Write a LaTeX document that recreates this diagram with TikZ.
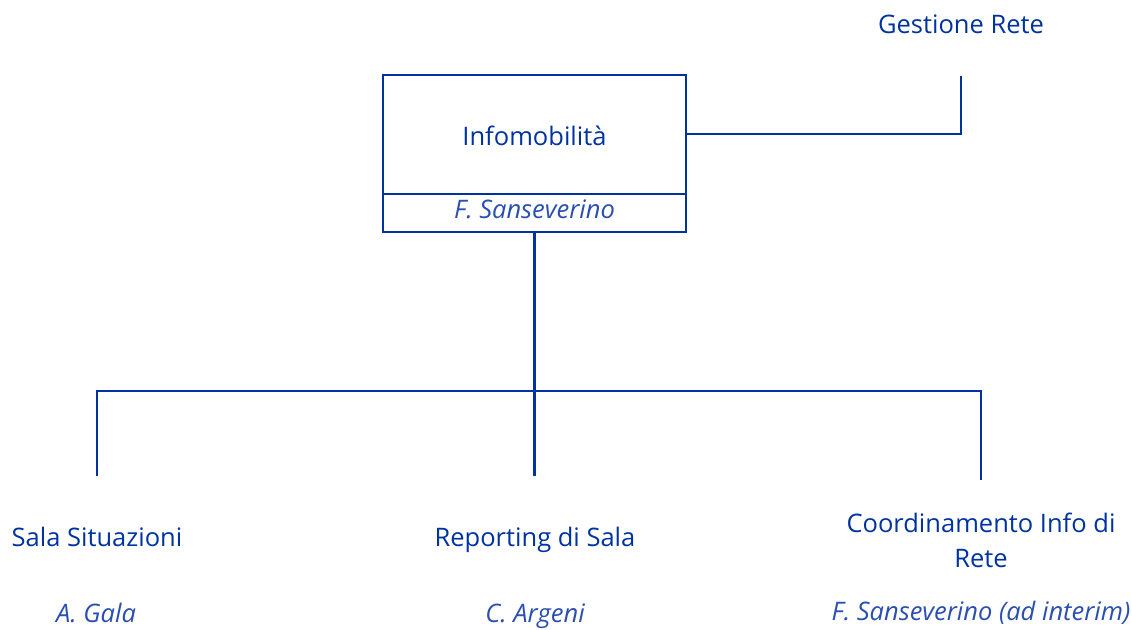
\documentclass[tikz,border=0pt]{standalone}
\usepackage{fontspec}
\setmainfont{Open Sans}
\definecolor{navy}{HTML}{0033A0}
\definecolor{lnavy}{HTML}{2A4FB0}
\begin{document}
\begin{tikzpicture}[x=1pt,y=-1pt,
  line/.style={draw=navy,line width=2.8pt},
  lbl/.style={text=navy,font=\fontsize{25.5}{35}\selectfont,inner sep=0pt,anchor=base},
  who/.style={text=lnavy,font=\fontsize{25.5}{35}\selectfont\itshape,inner sep=0pt,anchor=base}]
\useasboundingbox (0,0) rectangle (1132,629);
% main box
\node[line,minimum width=303pt,minimum height=157pt,inner sep=0pt] (top) at (534.5,153.5) {};
\coordinate (divl) at (383,194);
\coordinate (divr) at (686,194);
\draw[line] (divl) -- (divr);
\node[lbl] (toplbl) at (534.5,145) {Infomobilità};
\node[who] (topwho) at (534.5,218) {F. Sanseverino};
% staff
\node[lbl] (gest) at (961,33) {Gestione Rete};
\coordinate (gestend) at (961,76);
\coordinate (topright) at (686,134);
\draw[line] (topright) -| (gestend);
% children
\coordinate (hub) at (534.5,391);
\coordinate (c1) at (97,476);
\coordinate (c2) at (534.5,476);
\coordinate (c3) at (981,480);
\draw[line] (top.south) -- (hub);
\draw[line] (hub) -| (c1);
\draw[line] (hub) -| (c3);
\draw[line] (hub) -- (c2);
\node[lbl] (n1) at (97,546) {Sala Situazioni};
\node[who] (w1) at (96,622) {A. Gala};
\node[lbl] (n2) at (535,546) {Reporting di Sala};
\node[who] (w2) at (535,622) {C. Argeni};
\node[lbl] (n3a) at (981,532) {Coordinamento Info di};
\node[lbl] (n3b) at (981,567) {Rete};
\node[who] (w3) at (981,620) {F. Sanseverino (ad interim)};
\end{tikzpicture}
\end{document}
